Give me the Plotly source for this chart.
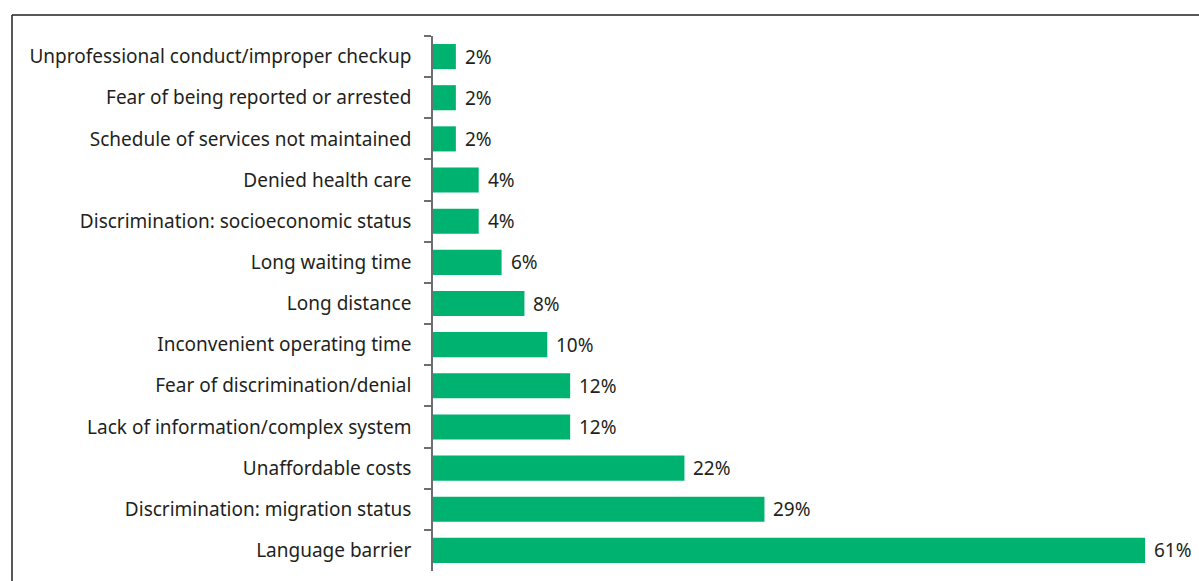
import plotly.graph_objects as go

categories = [
    "Unprofessional conduct/improper checkup",
    "Fear of being reported or arrested",
    "Schedule of services not maintained",
    "Denied health care",
    "Discrimination: socioeconomic status",
    "Long waiting time",
    "Long distance",
    "Inconvenient operating time",
    "Fear of discrimination/denial",
    "Lack of information/complex system",
    "Unaffordable costs",
    "Discrimination: migration status",
    "Language barrier",
]
values = [2, 2, 2, 4, 4, 6, 8, 10, 12, 12, 22, 29, 62.3]
value_labels = ["2%", "2%", "2%", "4%", "4%", "6%", "8%", "10%", "12%", "12%", "22%", "29%", "61%"]

W, H = 1199, 581
L, R, T, B = 433, 12, 36, 10
pw = W - L - R
ph = H - T - B
xmax = pw / 11.43

FONT = "Noto Sans"
TXT = "#231f20"
BAR = "#00B26F"
FS = 19

fig = go.Figure(go.Bar(
    y=categories, x=values, orientation="h",
    marker=dict(color=BAR, line=dict(width=0)),
    hoverinfo="skip",
))

for c, v, t in zip(categories, values, value_labels):
    fig.add_annotation(x=v, y=c, text=t, showarrow=False, xanchor="left",
                       xshift=7, font=dict(family=FONT, size=FS, color=TXT))

def px_x(p):
    return (p - L) / pw

def px_y(p):
    return (H - B - p) / ph

fig.add_shape(type="line", xref="paper", yref="paper",
              x0=px_x(12), x1=px_x(1199), y0=px_y(15), y1=px_y(15),
              line=dict(color=TXT, width=1.5))
fig.add_shape(type="line", xref="paper", yref="paper",
              x0=px_x(12), x1=px_x(12), y0=px_y(15), y1=px_y(590),
              line=dict(color=TXT, width=1.5))

fig.update_layout(
    width=W, height=H,
    margin=dict(l=L, r=R, t=T, b=B),
    paper_bgcolor="white", plot_bgcolor="white",
    bargap=0.39,
    showlegend=False,
    font=dict(family=FONT, size=FS, color=TXT),
    xaxis=dict(range=[0, xmax], visible=False, fixedrange=True),
    yaxis=dict(
        range=[len(categories) - 0.5, -0.5],
        showline=True, linecolor="#6d6e71", linewidth=1.5,
        ticks="outside", tickson="boundaries", ticklen=7, tickcolor="#6d6e71",
        tickwidth=1.5, showgrid=False, zeroline=False,
        ticklabelstandoff=16,
        tickfont=dict(family=FONT, size=FS, color=TXT),
        fixedrange=True,
    ),
)

fig.write_html("out.html")
